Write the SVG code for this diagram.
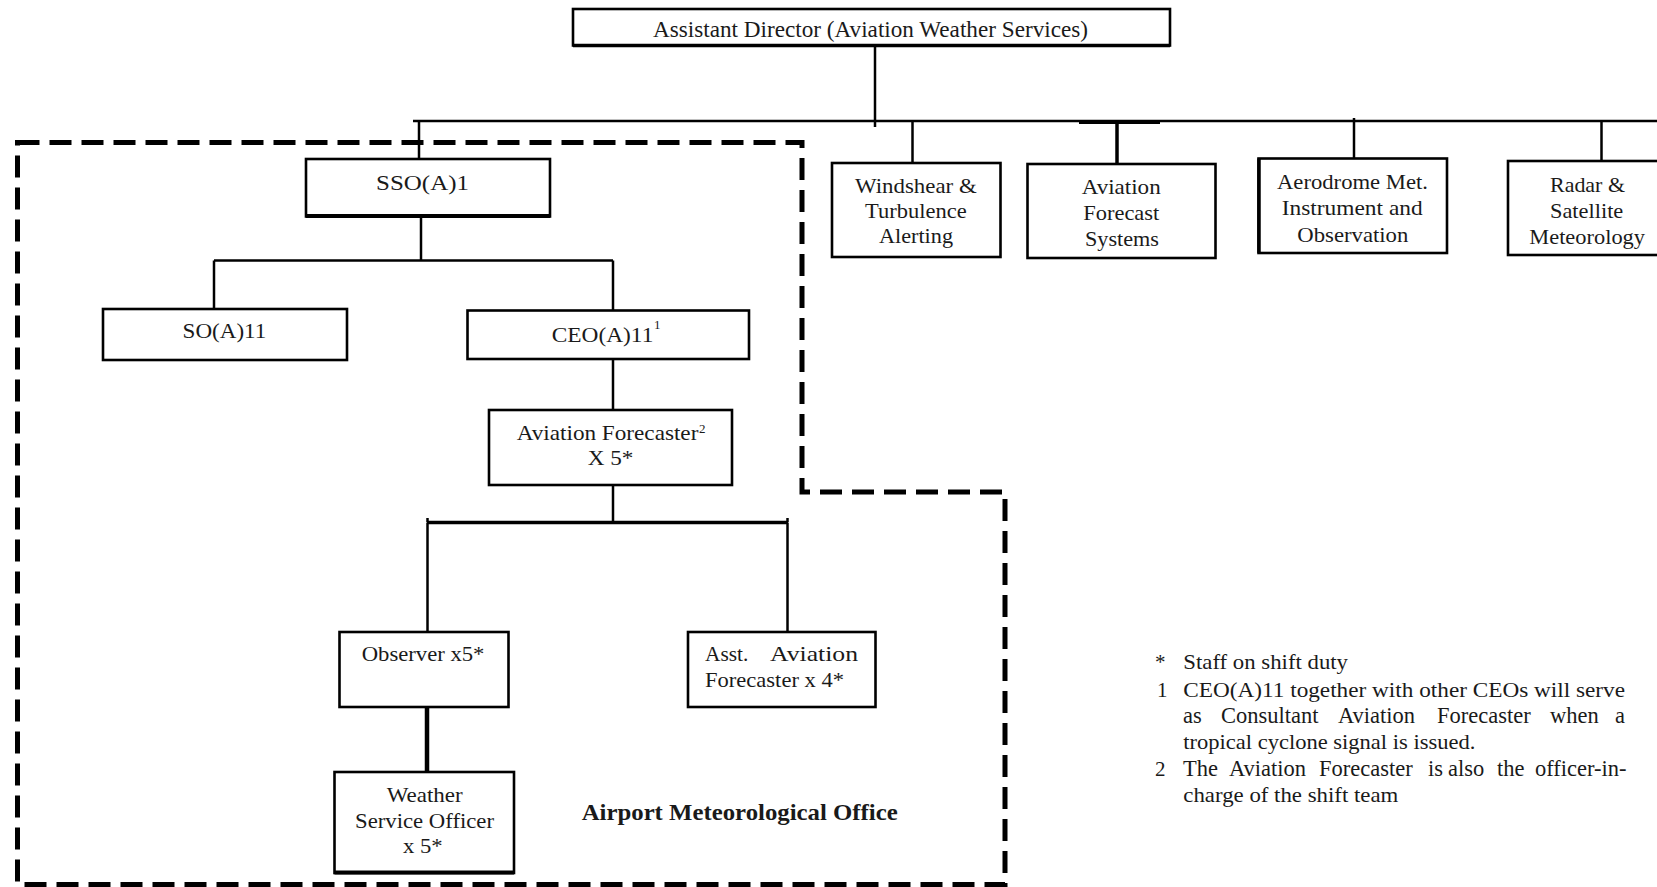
<svg xmlns="http://www.w3.org/2000/svg" width="1657" height="887" viewBox="0 0 1657 887">
<style>
.bg{fill:#fff}
.box{fill:#fff;stroke:#000;stroke-width:2.6}
.con{fill:none;stroke:#000;stroke-width:2.5}
.bnd{fill:none;stroke:#000;stroke-width:5;stroke-dasharray:22 10}
text{font-family:"Liberation Serif","Times New Roman",serif;fill:#1a1a1a;font-size:21px}
.t22{font-size:22px}
.sup{font-size:13px}
.bold{font-weight:bold;font-size:22.5px}
.fn{font-size:21px}
.fnw{font-size:22.5px}
</style>
<rect class="bg" x="0" y="0" width="1657" height="887"/>

<g id="boundary">
<path class="bnd" d="M17.5 142.5 H802 V492 H1005 V884.5 H17.5 Z"/>
</g>

<g id="connectors">
<path class="con" d="M875 46 V127"/>
<path class="con" d="M413 121 H1657"/>
<path class="con" d="M1079 123 H1160" style="stroke-width:2"/>
<path class="con" d="M419 121 V159"/>
<path class="con" d="M912.5 121 V163"/>
<path class="con" d="M1117 121 V164" style="stroke-width:3.5"/>
<path class="con" d="M1354 118 V158.5"/>
<path class="con" d="M1601.5 121 V161"/>
<path class="con" d="M421 216.5 V260.5"/>
<path class="con" d="M214 260.5 H613"/>
<path class="con" d="M214 260.5 V309"/>
<path class="con" d="M613 260.5 V310.5"/>
<path class="con" d="M613 359 V410"/>
<path class="con" d="M613 485 V522.5"/>
<path class="con" d="M427 522.5 H788" style="stroke-width:3.5"/>
<path class="con" d="M427.5 518 V522 M787.5 518 V522"/>
<path class="con" d="M427.5 522.5 V632"/>
<path class="con" d="M787.5 522.5 V632"/>
<path class="con" d="M427 707 V772" style="stroke-width:4.5"/>
</g>

<g id="n-ad">
<rect class="box" x="573" y="9" width="597" height="36.5"/>
<path class="con" d="M573 45.5 H1170" style="stroke-width:3.5"/>
<text x="653" y="36.7" style="font-size:22.5px" textLength="435" lengthAdjust="spacingAndGlyphs">Assistant Director (Aviation Weather Services)</text>
</g>

<g id="n-windshear">
<rect class="box" x="832" y="163" width="168.5" height="94"/>
<text x="855" y="193.3" textLength="121.7" lengthAdjust="spacingAndGlyphs">Windshear &amp;</text>
<text x="865" y="218.3" textLength="101.7" lengthAdjust="spacingAndGlyphs">Turbulence</text>
<text x="879" y="243.3" textLength="74" lengthAdjust="spacingAndGlyphs">Alerting</text>
</g>

<g id="n-afs">
<rect class="box" x="1027.5" y="164" width="188" height="94"/>
<text x="1081.7" y="194.3" textLength="79" lengthAdjust="spacingAndGlyphs">Aviation</text>
<text x="1083.3" y="220" textLength="76" lengthAdjust="spacingAndGlyphs">Forecast</text>
<text x="1085" y="246" textLength="74" lengthAdjust="spacingAndGlyphs">Systems</text>
</g>

<g id="n-aerodrome">
<rect class="box" x="1258.5" y="158.5" width="188.5" height="94.5"/>
<path class="con" d="M1259 158.5 V253" style="stroke-width:3.5"/>
<text x="1277" y="189.3" textLength="151" lengthAdjust="spacingAndGlyphs">Aerodrome Met.</text>
<text x="1281.7" y="215" textLength="141" lengthAdjust="spacingAndGlyphs">Instrument and</text>
<text x="1297.3" y="241.7" textLength="111" lengthAdjust="spacingAndGlyphs">Observation</text>
</g>

<g id="n-radar">
<rect class="box" x="1508" y="161" width="160" height="94"/>
<text x="1550" y="191.7" textLength="75" lengthAdjust="spacingAndGlyphs">Radar &amp;</text>
<text x="1550" y="218.3" textLength="73.3" lengthAdjust="spacingAndGlyphs">Satellite</text>
<text x="1529.3" y="244" textLength="115.7" lengthAdjust="spacingAndGlyphs">Meteorology</text>
</g>

<g id="n-sso">
<rect class="box" x="306" y="159" width="244" height="57.5"/>
<path class="con" d="M306 216 H550" style="stroke-width:4"/>
<text x="376" y="190" textLength="93" lengthAdjust="spacingAndGlyphs">SSO(A)1</text>
</g>

<g id="n-so">
<rect class="box" x="103" y="309" width="244" height="51"/>
<text x="182.6" y="338.3" textLength="83.7" lengthAdjust="spacingAndGlyphs">SO(A)11</text>
</g>

<g id="n-ceo">
<rect class="box" x="467.5" y="310.5" width="281.5" height="48.5"/>
<text class="t22" x="551.7" y="341.7" textLength="101.7" lengthAdjust="spacingAndGlyphs">CEO(A)11</text>
<text class="sup" x="654" y="329">1</text>
</g>

<g id="n-af">
<rect class="box" x="489" y="410" width="243" height="75"/>
<text class="t22" x="516.7" y="440" textLength="181.7" lengthAdjust="spacingAndGlyphs">Aviation Forecaster</text>
<text class="sup" x="699" y="433">2</text>
<text class="t22" x="587.7" y="465" textLength="45.7" lengthAdjust="spacingAndGlyphs">X 5*</text>
</g>

<g id="n-observer">
<rect class="box" x="339.5" y="632" width="169" height="75"/>
<text class="t22" x="361.7" y="661" textLength="122.7" lengthAdjust="spacingAndGlyphs">Observer x5*</text>
</g>

<g id="n-asst">
<rect class="box" x="688" y="632" width="187.5" height="75"/>
<text class="t22" x="705" y="661" textLength="43.3" lengthAdjust="spacingAndGlyphs">Asst.</text>
<text class="t22" x="770" y="661" textLength="88" lengthAdjust="spacingAndGlyphs">Aviation</text>
<text class="t22" x="705" y="687.3" textLength="139" lengthAdjust="spacingAndGlyphs">Forecaster x 4*</text>
</g>

<g id="n-wso">
<rect class="box" x="334.5" y="772" width="179.5" height="101"/>
<path class="con" d="M334.5 872.5 H514" style="stroke-width:4"/>
<text class="t22" x="386.7" y="801.7" textLength="76" lengthAdjust="spacingAndGlyphs">Weather</text>
<text class="t22" x="355" y="827.7" textLength="139" lengthAdjust="spacingAndGlyphs">Service Officer</text>
<text class="t22" x="403" y="853.3" textLength="39.7" lengthAdjust="spacingAndGlyphs">x 5*</text>
</g>

<g id="label-amo">
<text class="bold" x="581.7" y="820" textLength="316" lengthAdjust="spacingAndGlyphs">Airport Meteorological Office</text>
</g>

<g id="notes">
<text class="fn" x="1155" y="669">*</text>
<text class="fn" x="1183.3" y="669" textLength="164.7" lengthAdjust="spacingAndGlyphs">Staff on shift duty</text>
<text class="fn" x="1157" y="696.7">1</text>
<text class="fn" x="1183.3" y="696.7" textLength="441.7" lengthAdjust="spacingAndGlyphs">CEO(A)11 together with other CEOs will serve</text>
<text class="fnw" y="722.7"><tspan x="1183">as</tspan><tspan x="1221">Consultant</tspan><tspan x="1338">Aviation</tspan><tspan x="1437">Forecaster</tspan><tspan x="1550">when</tspan><tspan x="1615">a</tspan></text>
<text class="fn" x="1183.3" y="749.3" textLength="292" lengthAdjust="spacingAndGlyphs">tropical cyclone signal is issued.</text>
<text class="fn" x="1155" y="776">2</text>
<text class="fnw" y="776"><tspan x="1183">The</tspan><tspan x="1229">Aviation</tspan><tspan x="1319">Forecaster</tspan><tspan x="1428">is</tspan><tspan x="1448">also</tspan><tspan x="1497">the</tspan><tspan x="1535">officer-in-</tspan></text>
<text class="fn" x="1183.3" y="801.7" textLength="215" lengthAdjust="spacingAndGlyphs">charge of the shift team</text>
</g>
</svg>
